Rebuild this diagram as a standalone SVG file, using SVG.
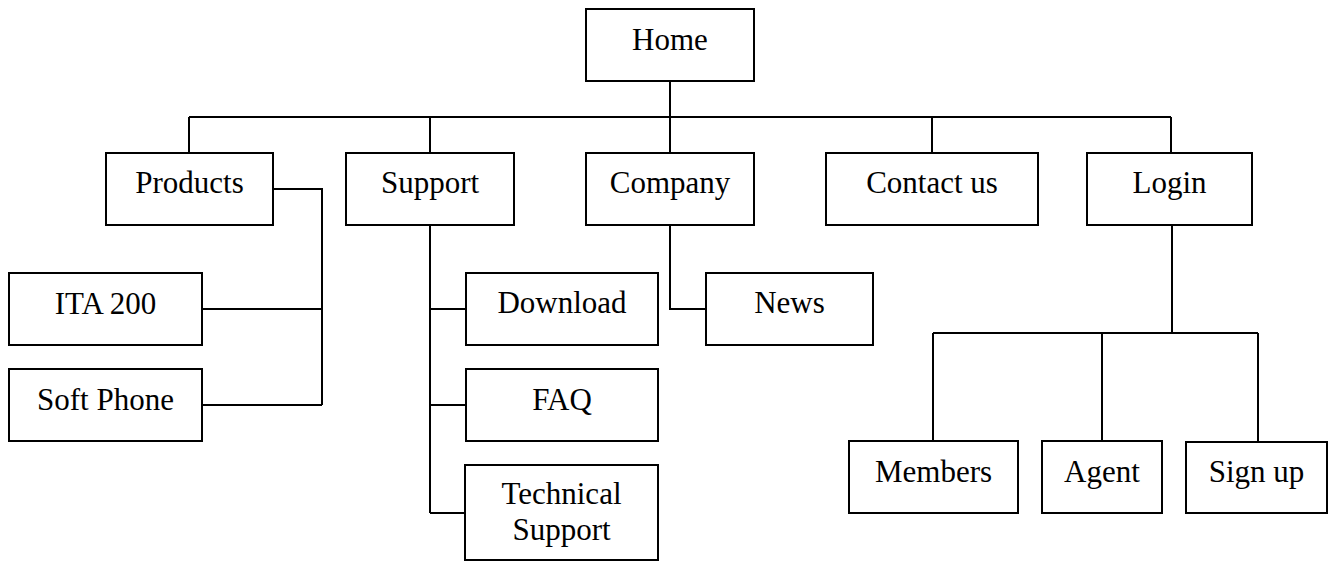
<svg xmlns="http://www.w3.org/2000/svg" width="1329" height="562" viewBox="0 0 1329 562">
<style>
rect{fill:#fff;stroke:#000;stroke-width:2}
.c{fill:none;stroke:#000;stroke-width:2}
text{font-family:"Liberation Serif","Times New Roman",serif;font-size:31px;fill:#000;text-anchor:middle}
</style>
<rect x="0" y="0" width="1329" height="562" style="stroke:none"/>
<g id="connectors" class="c">
<path d="M670 81V117M189 117H1171M189 117V153M430 117V153M670 117V153M932 117V153M1171 117V153"/>
<path d="M273 189H322V405M202 309H322M202 405H322"/>
<path d="M430 225V513M430 309H466M430 405H466M430 513H466"/>
<path d="M670 225V309H706"/>
<path d="M1172 225V333M933 333H1258M933 333V441M1102 333V441M1258 333V442"/>
</g>
<g id="home"><rect x="586" y="9" width="168" height="72"/><text x="670" y="50">Home</text></g>
<g id="products"><rect x="106" y="153" width="167" height="72"/><text x="189.5" y="193">Products</text></g>
<g id="support"><rect x="346" y="153" width="168" height="72"/><text x="430" y="193">Support</text></g>
<g id="company"><rect x="586" y="153" width="168" height="72"/><text x="670" y="193">Company</text></g>
<g id="contact"><rect x="826" y="153" width="212" height="72"/><text x="932" y="193">Contact us</text></g>
<g id="login"><rect x="1087" y="153" width="165" height="72"/><text x="1169.5" y="193">Login</text></g>
<g id="ita200"><rect x="9" y="273" width="193" height="72"/><text x="105.5" y="314">ITA 200</text></g>
<g id="softphone"><rect x="9" y="369" width="193" height="72"/><text x="105.5" y="410">Soft Phone</text></g>
<g id="download"><rect x="466" y="273" width="192" height="72"/><text x="562" y="313">Download</text></g>
<g id="faq"><rect x="466" y="369" width="192" height="72"/><text x="562" y="410">FAQ</text></g>
<g id="techsupport"><rect x="465" y="465" width="193" height="95"/><text x="561.5" y="504">Technical</text><text x="561.5" y="540">Support</text></g>
<g id="news"><rect x="706" y="273" width="167" height="72"/><text x="789.5" y="313">News</text></g>
<g id="members"><rect x="849" y="441" width="169" height="72"/><text x="933.5" y="482">Members</text></g>
<g id="agent"><rect x="1042" y="441" width="120" height="72"/><text x="1102" y="482">Agent</text></g>
<g id="signup"><rect x="1186" y="442" width="141" height="71"/><text x="1256.5" y="482">Sign up</text></g>
</svg>
